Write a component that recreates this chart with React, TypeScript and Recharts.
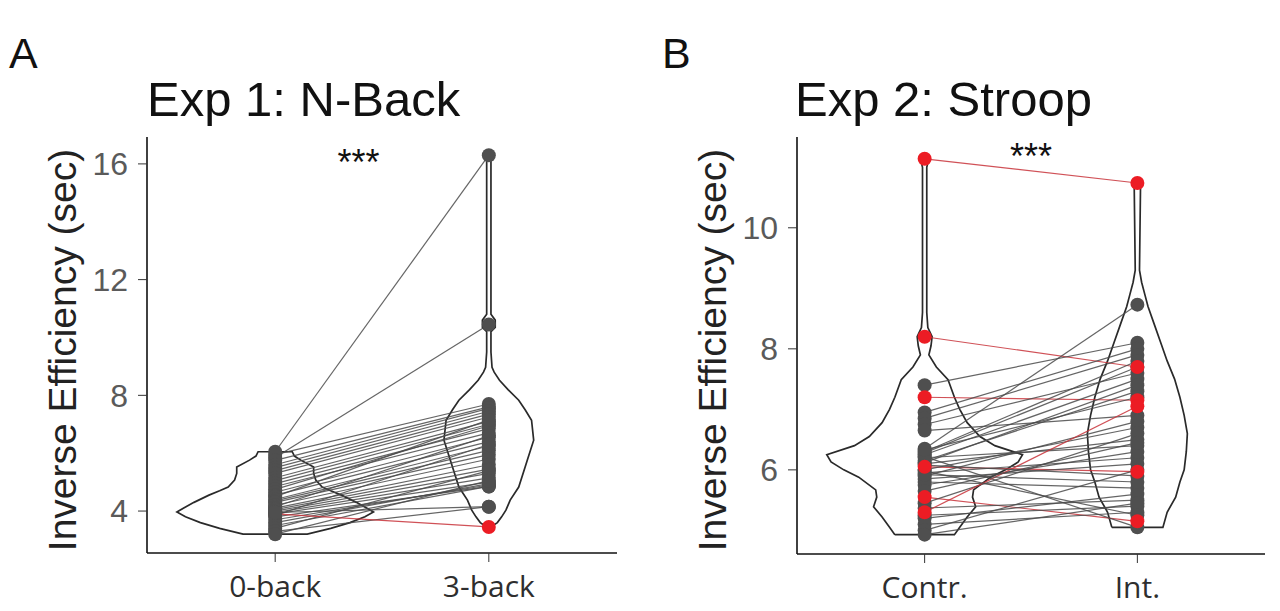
import React from "react";
import { ComposedChart, Scatter, XAxis, YAxis } from "recharts";

// Exp 1: N-Back, inverse efficiency (sec) per subject
const nbackCategories = ["0-back", "3-back"];
const nbackTicks = [4, 8, 12, 16];
const nbackZero = [
  6.05, 5.85, 5.95, 5.75, 5.6, 5.5, 5.4, 5.3, 5.15, 5.05, 4.95, 4.85,
  4.75, 4.65, 4.55, 4.5, 4.4, 4.35, 4.3, 4.2, 4.15, 4.1, 4.05, 4.0,
  3.95, 3.9, 3.85, 3.8, 3.7, 3.6, 3.5, 3.4, 3.3, 3.2, 3.9, 3.95,
];
const nbackThree = [
  16.3, 10.45, 7.7, 7.6, 7.55, 7.45, 7.35, 7.25, 7.1, 7.0, 6.85, 6.7,
  6.95, 6.55, 6.4, 7.15, 6.25, 6.1, 5.95, 5.8, 6.6, 5.6, 5.45, 5.3,
  5.15, 5.0, 6.3, 4.85, 4.9, 4.95, 4.85, 5.4, 4.15, 5.05, 3.45, 4.15,
];
const nbackFlagged = [34];

// Exp 2: Stroop
const stroopCategories = ["Contr.", "Int."];
const stroopTicks = [6, 8, 10];
const stroopControl = [
  11.14, 8.2, 7.4, 7.2, 6.95, 6.85, 6.75, 6.65, 6.35, 6.3, 6.25, 6.2,
  6.15, 6.1, 6.05, 6.0, 5.95, 5.9, 5.85, 5.8, 5.75, 5.55, 5.45, 5.37,
  5.3, 5.25, 5.2, 5.1, 5.0, 4.93, 6.28, 6.12, 6.08, 5.98, 6.22, 5.65,
  6.33, 5.92,
];
const stroopInterference = [
  10.74, 7.7, 8.1, 7.15, 8.0, 7.9, 7.6, 6.9, 8.73, 7.8, 7.5, 6.4,
  7.3, 6.5, 5.97, 6.7, 6.2, 6.8, 6.1, 5.7, 6.3, 5.15, 6.6, 5.5,
  7.05, 5.4, 5.6, 5.3, 6.0, 5.45, 7.7, 7.4, 5.9, 5.25, 5.05, 6.45,
  7.2, 5.8,
];
const stroopFlagged = [0, 1, 3, 14, 21, 24];

// violin outlines: [value, half width]
const nbackZeroViolin: [number, number][] = [
  [3.2, 0.15], [3.4, 0.26], [3.6, 0.35], [3.8, 0.42], [3.97, 0.46], [4.1, 0.43],
  [4.3, 0.38], [4.55, 0.31], [4.7, 0.26], [4.83, 0.22], [5.07, 0.19], [5.3, 0.18],
  [5.52, 0.18], [5.76, 0.12], [5.9, 0.09], [6.05, 0.08],
];
const nbackThreeViolin: [number, number][] = [
  [3.45, 0.01], [3.6, 0.04], [3.8, 0.06], [4.03, 0.08], [4.38, 0.1], [4.83, 0.14],
  [5.52, 0.17], [5.76, 0.18], [6.45, 0.21], [7.14, 0.2], [7.5, 0.17], [7.83, 0.14],
  [8.2, 0.09], [8.52, 0.05], [8.8, 0.025], [8.97, 0.015], [9.5, 0.01], [10.2, 0.01],
  [10.35, 0.03], [10.6, 0.03], [10.8, 0.01], [16.3, 0.01],
];
const stroopControlViolin: [number, number][] = [
  [4.93, 0.14], [5.05, 0.165], [5.22, 0.2], [5.39, 0.24], [5.55, 0.225], [5.67, 0.23],
  [5.88, 0.31], [6.0, 0.38], [6.13, 0.44], [6.25, 0.46], [6.4, 0.33], [6.55, 0.26],
  [6.78, 0.2], [7.0, 0.165], [7.2, 0.14], [7.49, 0.11], [7.7, 0.055], [7.9, 0.02],
  [8.05, 0.03], [8.2, 0.035], [8.35, 0.015], [8.6, 0.01], [11.0, 0.01], [11.14, 0.02],
];
const stroopInterferenceViolin: [number, number][] = [
  [5.05, 0.12], [5.3, 0.14], [5.55, 0.18], [5.8, 0.2], [6.0, 0.22], [6.3, 0.23],
  [6.6, 0.235], [6.9, 0.22], [7.2, 0.2], [7.5, 0.175], [7.8, 0.14], [8.1, 0.11],
  [8.4, 0.08], [8.7, 0.05], [8.9, 0.035], [9.1, 0.02], [9.3, 0.01], [10.74, 0.015],
];

const GREY = "#4f4f4f";
const RED = "#ec1c24";

function outline(center: number, profile: [number, number][]) {
  const left = profile.map(([y, w]) => ({ x: center - w, y }));
  const right = [...profile].reverse().map(([y, w]) => ({ x: center + w, y }));
  return [...left, ...right, left[0]];
}

const noShape = () => <g />;
const dot = (fill: string) => (p: any) => <circle cx={p.cx} cy={p.cy} r={7} fill={fill} />;

function Panel(props: any) {
  const { categories, ticks, domain, first, second, flagged, violins, stars, redFirst, margin } = props;
  const isFlagged = (i: number) => flagged.includes(i);
  const pts = (vals: number[], x: number, red: boolean) =>
    vals.map((y, i) => ({ x, y, i })).filter((p) => isFlagged(p.i) === red);

  const greyPoints = [
    <Scatter key="g1" data={pts(first, 1, false)} shape={dot(GREY)} isAnimationActive={false} />,
    <Scatter key="g2" data={pts(second, 2, false)} shape={dot(GREY)} isAnimationActive={false} />,
  ];
  const redPoints = [
    <Scatter key="r1" data={pts(first, 1, true)} shape={dot(RED)} isAnimationActive={false} />,
    <Scatter key="r2" data={pts(second, 2, true)} shape={dot(RED)} isAnimationActive={false} />,
  ];

  return (
    <ComposedChart width={640} height={611} margin={margin}>
      <XAxis
        type="number"
        dataKey="x"
        domain={[0.4, 2.6]}
        ticks={[1, 2]}
        allowDataOverflow
        tickFormatter={(v: number) => categories[v - 1]}
        height={50}
        tickSize={9}
        tickMargin={14}
        axisLine={{ stroke: "#111", strokeWidth: 1.6 }}
        tickLine={{ stroke: "#333" }}
        tick={{ fontSize: 30, fill: "#2e2e2e", fontFamily: "'Open Sans', sans-serif" }}
      />
      <YAxis
        type="number"
        dataKey="y"
        domain={domain}
        ticks={ticks}
        allowDataOverflow
        width={60}
        tickSize={9}
        tickMargin={10}
        axisLine={{ stroke: "#111", strokeWidth: 1.6 }}
        tickLine={{ stroke: "#333" }}
        tick={{ fontSize: 32, fill: "#5a5a5a", fontFamily: "'Liberation Sans', Arial, sans-serif" }}
      />
      {violins.map((v: any[], k: number) => (
        <Scatter
          key={"v" + k}
          data={v}
          line={{ stroke: "#2a2a2a", strokeWidth: 1.7 }}
          shape={noShape}
          isAnimationActive={false}
        />
      ))}
      {first.map((a: number, i: number) => (
        <Scatter
          key={"l" + i}
          data={[{ x: 1, y: a }, { x: 2, y: second[i] }]}
          line={{
            stroke: isFlagged(i) ? "#c8323a" : "#4a4a4a",
            strokeWidth: 1.2,
            strokeOpacity: 0.85,
          }}
          shape={noShape}
          isAnimationActive={false}
        />
      ))}
      {redFirst ? redPoints : greyPoints}
      {redFirst ? greyPoints : redPoints}
      <Scatter
        data={[stars]}
        isAnimationActive={false}
        shape={(p: any) => (
          <text
            x={p.cx}
            y={p.cy + 20}
            textAnchor="middle"
            fontSize={36}
            fill="#111"
            fontFamily="'Liberation Sans', Arial, sans-serif"
          >
            ***
          </text>
        )}
      />
    </ComposedChart>
  );
}

export default function App() {
  const font = "'Liberation Sans', Arial, sans-serif";
  return (
    <div style={{ position: "absolute", left: 0, top: 0, width: 1280, height: 611, background: "#fff" }}>
      <div style={{ position: "absolute", left: 0, top: 0 }}>
        <Panel
          categories={nbackCategories}
          ticks={nbackTicks}
          domain={[2.55, 16.93]}
          first={nbackZero}
          second={nbackThree}
          flagged={nbackFlagged}
          violins={[outline(1, nbackZeroViolin), outline(2, nbackThreeViolin)]}
          stars={{ x: 1.39, y: 16.3 }}
          redFirst
          margin={{ top: 137, right: 23, bottom: 8, left: 87 }}
        />
      </div>
      <div style={{ position: "absolute", left: 640, top: 0 }}>
        <Panel
          categories={stroopCategories}
          ticks={stroopTicks}
          domain={[4.61, 11.5]}
          first={stroopControl}
          second={stroopInterference}
          flagged={stroopFlagged}
          violins={[outline(1, stroopControlViolin), outline(2, stroopInterferenceViolin)]}
          stars={{ x: 1.5, y: 11.3 }}
          redFirst={false}
          margin={{ top: 137, right: 15, bottom: 7, left: 97 }}
        />
      </div>
      <svg
        width={1280}
        height={611}
        style={{ position: "absolute", left: 0, top: 0, pointerEvents: "none" }}
        fontFamily={font}
      >
        <text x={9} y={68} fontSize={43} fill="#111">A</text>
        <text x={147} y={116} fontSize={49} fill="#111">Exp 1: N-Back</text>
        <text x={662} y={68} fontSize={43} fill="#111">B</text>
        <text x={795} y={116} fontSize={49} fill="#111">Exp 2: Stroop</text>
        <text x={76} y={350} fontSize={39} fill="#222" textAnchor="middle" transform="rotate(-90 76 350)">
          Inverse Efficiency (sec)
        </text>
        <text x={726} y={350} fontSize={39} fill="#222" textAnchor="middle" transform="rotate(-90 726 350)">
          Inverse Efficiency (sec)
        </text>
      </svg>
    </div>
  );
}
